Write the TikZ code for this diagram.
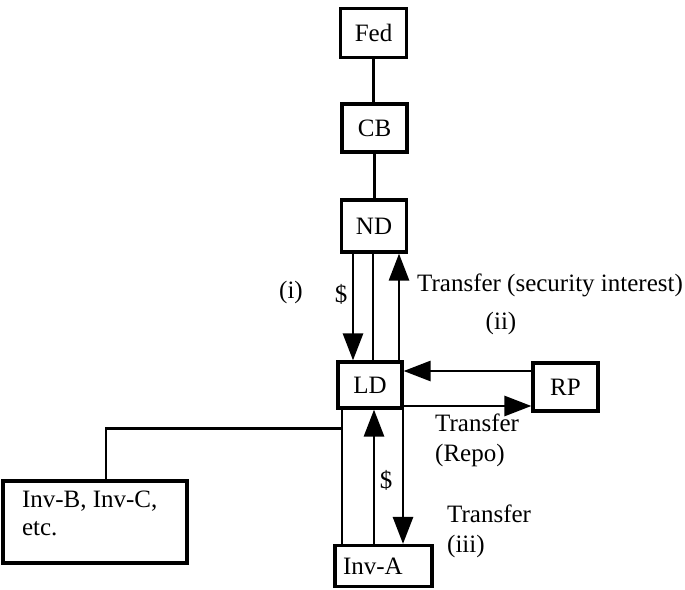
\documentclass[tikz,border=0pt]{standalone}
\usepackage{fontspec}
\setmainfont{Liberation Serif}
\usetikzlibrary{arrows.meta}

\begin{document}
\begin{tikzpicture}[x=1pt, y=-1pt,
  blk/.style={draw, line width=3.2pt, inner sep=0pt, font=\fontsize{25}{28}\selectfont},
  wire/.style={line width=2.6pt},
  flow/.style={line width=2.8pt, -{Triangle[width=20pt,length=27pt]}},
  lbl/.style={font=\fontsize{25}{30}\selectfont, inner sep=0pt}]
  \useasboundingbox (0,0) rectangle (685,589);

  % boxes
  \node[blk, minimum width=66pt, minimum height=49pt] (fed) at (373.5,33) {Fed};
  \node[blk, minimum width=65pt, minimum height=48pt] (cb) at (374.5,128) {CB};
  \node[blk, minimum width=65pt, minimum height=52pt] (nd) at (374,226) {ND};
  \node[blk, minimum width=64pt, minimum height=46pt] (ld) at (370,385) {LD};
  \node[blk, minimum width=65pt, minimum height=48pt] (rp) at (565.5,387) {RP};
  \node[blk, text width=81pt, inner xsep=8pt, align=left, minimum height=41pt] (inva) at (383.5,566) {Inv-A};
  \node[blk, inner xsep=19pt, inner ysep=10pt] (invb) at (95,522)
    {\parbox[c][62pt][t]{146pt}{Inv-B, Inv-C,\\ etc.}};

  % chain to the Fed
  \draw[wire] (fed.south) -- (fed.south |- cb.north);
  \draw[wire] (cb.south) -- (cb.south |- nd.north);

  % ND / LD
  \coordinate (a1) at ([xshift=-21pt]nd.south);
  \coordinate (a2) at ([xshift=-1pt]nd.south);
  \coordinate (a3) at ([xshift=25pt]nd.south);
  \draw[flow] (a1) -- (a1 |- ld.north);
  \draw[wire] (a2) -- (a2 |- ld.north);
  \draw[flow] (a3 |- ld.north) -- (a3);

  % LD / RP
  \coordinate (r1) at ([yshift=16pt]rp.west);
  \coordinate (r2) at ([yshift=-19pt]rp.west);
  \draw[flow] (r1) -- (r1 -| ld.east);
  \draw[flow] (r2 -| ld.east) -- (r2);

  % LD / investors
  \coordinate (b1) at ([xshift=-28pt]ld.south);
  \coordinate (b2) at ([xshift=4pt]ld.south);
  \coordinate (b3) at ([xshift=33pt]ld.south);
  \draw[wire] (b1) -- (b1 |- inva.north);
  \draw[flow] (b2 |- inva.north) -- (b2);
  \draw[flow] (b3) -- (b3 |- inva.north);
  \coordinate (j) at ([yshift=-19pt]b1);
  \draw[wire] ([xshift=11pt]invb.north) |- (j);

  % labels
  \node[lbl] (li) at (291,292) {(i)};
  \node[lbl] (cash1) at (341,294) {\$};
  \node[lbl, anchor=west] (tsec) at (417,285) {Transfer (security interest)};
  \node[lbl] (lii) at (501,323) {(ii)};
  \node[lbl, anchor=west, align=left] (trepo) at (435,440) {Transfer\\(Repo)};
  \node[lbl] (cash2) at (386,480) {\$};
  \node[lbl, anchor=west, align=left] (tiii) at (447,531) {Transfer\\(iii)};
\end{tikzpicture}
\end{document}
